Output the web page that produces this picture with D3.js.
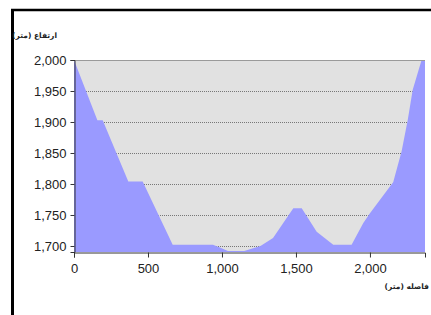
<!DOCTYPE html>
<html><head><meta charset="utf-8">
<script src="https://cdn.jsdelivr.net/npm/d3@7"></script>
<style>body{margin:0;background:#fff}svg{display:block}</style>
</head><body>
<svg id="c" width="431" height="315"></svg>
<script>
const distance = [0, 158, 194, 367, 464, 667, 939, 990, 1040, 1150, 1260, 1345, 1482, 1539, 1640, 1752, 1876, 1955, 2000, 2135, 2157, 2214, 2255, 2289, 2349, 2375];
const elevation = [2000, 1903, 1903, 1804, 1804, 1702, 1702, 1697, 1692, 1692, 1700, 1713, 1761, 1761, 1723, 1702, 1702, 1737, 1753, 1796, 1803, 1853, 1903, 1952, 2000, 2010];
const yTicks = [1700, 1750, 1800, 1850, 1900, 1950, 2000];
const xTicks = [0, 500, 1000, 1500, 2000];
const yTitle = "ارتفاع (متر)";
const xTitle = "فاصله (متر)";

const svg = d3.select("#c");
const L = 74, R = 425, T = 60, B = 252;
const x = d3.scaleLinear().domain([0, 2372]).range([L, R]);
const y = d3.scaleLinear().domain([1690.3, 2000]).range([B, T]);
const data = distance.map((d, i) => ({d, e: elevation[i]}));

// frame
svg.append("line").attr("x1", 12.5).attr("x2", 12.5).attr("y1", 9).attr("y2", 315).attr("stroke", "#000").attr("stroke-width", 3);
svg.append("line").attr("x1", 11).attr("x2", 431).attr("y1", 10).attr("y2", 10).attr("stroke", "#000").attr("stroke-width", 2.5);

svg.append("defs").append("clipPath").attr("id", "pc").append("rect")
  .attr("x", L).attr("y", T).attr("width", R - L).attr("height", B - T);

svg.append("rect").attr("x", L).attr("y", T).attr("width", R - L).attr("height", B - T).attr("fill", "#e1e1e1");

const g = svg.append("g").attr("clip-path", "url(#pc)");
g.selectAll(".grid").data(yTicks.filter(t => t < 2000)).join("line")
  .attr("x1", L).attr("x2", R).attr("y1", d => Math.round(y(d)) + 0.5).attr("y2", d => Math.round(y(d)) + 0.5)
  .attr("stroke", "#777").attr("stroke-dasharray", "1,1").attr("stroke-width", 1);

const area = d3.area().x(p => x(p.d)).y0(B).y1(p => y(p.e));
g.append("path").datum(data).attr("d", area).attr("fill", "#9a9aff");

// plot top border
svg.append("line").attr("x1", L).attr("x2", R).attr("y1", T + 0.5).attr("y2", T + 0.5).attr("stroke", "#9a9a9a");

const yAxis = d3.axisLeft(y).tickValues(yTicks).tickFormat(d3.format(",")).tickSize(4).tickPadding(4);
const ya = svg.append("g").attr("transform", `translate(${L + 0.5},0)`).call(yAxis);
const xAxis = d3.axisBottom(x).tickValues(xTicks).tickFormat(d3.format(",")).tickSize(5).tickPadding(6);
const xa = svg.append("g").attr("transform", `translate(0,${B + 0.5})`).call(xAxis);
[ya, xa].forEach(a => {
  a.select(".domain").attr("stroke", "#333");
  a.selectAll(".tick line").attr("stroke", "#333");
  a.selectAll("text").attr("font-family", "Liberation Sans, Arial, sans-serif").attr("font-size", 13).attr("fill", "#222");
});

svg.append("text").attr("x", 57).attr("y", 38).attr("text-anchor", "end")
  .attr("font-family", "DejaVu Sans").attr("font-size", 7.5).attr("font-weight", "bold").attr("fill", "#222").text(yTitle);
svg.append("text").attr("x", 429).attr("y", 289).attr("text-anchor", "end")
  .attr("font-family", "DejaVu Sans").attr("font-size", 7.5).attr("font-weight", "bold").attr("fill", "#222").text(xTitle);
</script>
</body></html>
